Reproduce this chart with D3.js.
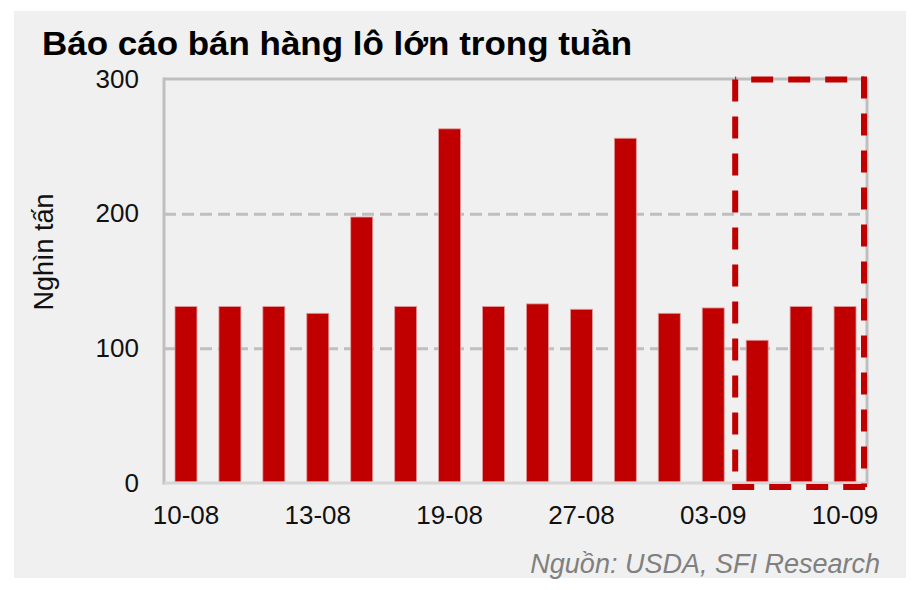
<!DOCTYPE html>
<html>
<head>
<meta charset="utf-8">
<script src="https://cdn.jsdelivr.net/npm/d3@7"></script>
<style>
  body { margin: 0; background: #fff; }
  svg { display: block; font-family: "Liberation Sans", Arial, sans-serif; }
</style>
</head>
<body>
<svg id="chart" width="920" height="590"></svg>
<script>
// Weekly large-lot sales (thousand tonnes), one bar per report
const dates = ['10-08', '11-08', '12-08', '13-08', '14-08', '17-08', '19-08', '20-08',
               '24-08', '27-08', '28-08', '31-08', '03-09', '04-09', '07-09', '10-09'];
const sales = [131, 131, 131, 126, 197.5, 131, 263, 131, 133, 129, 256, 126, 130, 106, 131, 131];
const shownDates = ['10-08', '13-08', '19-08', '27-08', '03-09', '10-09'];
const yTicks = [0, 100, 200, 300];
const highlightFrom = '04-09';

const TITLE = 'Báo cáo bán hàng lô lớn trong tuần';
const Y_LABEL = 'Nghìn tấn';
const SOURCE = 'Nguồn: USDA, SFI Research';

const BAR_RED = '#c00000';
const GRID = '#bfbfbf';

let svg = d3.select('#chart');

// panel background
svg.append('rect')
  .attr('x', 14).attr('y', 11)
  .attr('width', 892).attr('height', 567)
  .attr('fill', '#f0f0f0');

let plot = { left: 164, right: 867, top: 79, bottom: 483 };

let x = d3.scaleBand()
  .domain(dates)
  .range([plot.left, plot.right])
  .paddingInner(0.5)
  .paddingOuter(0.25);

let y = d3.scaleLinear()
  .domain([0, 300])
  .range([plot.bottom, plot.top]);

// dashed gridlines at 100 and 200
svg.append('g')
  .attr('transform', `translate(${plot.left},0)`)
  .call(d3.axisLeft(y).tickValues([100, 200]).tickSize(-(plot.right - plot.left)).tickFormat(''))
  .call(g => g.select('.domain').remove())
  .selectAll('line')
    .attr('stroke', GRID)
    .attr('stroke-width', 3)
    .attr('stroke-dasharray', '12,6');

// bars
svg.append('g')
  .selectAll('rect')
  .data(sales)
  .enter()
  .append('rect')
    .attr('x', (d, i) => x(dates[i]))
    .attr('y', d => y(d))
    .attr('width', x.bandwidth())
    .attr('height', d => y(0) - y(d) - 1)
    .attr('fill', BAR_RED)
    .attr('stroke', '#e09a9a')
    .attr('stroke-width', 0.8);

// plot frame
let frame = svg.append('g').attr('fill', 'none').attr('stroke-width', 3);
frame.append('line')
  .attr('x1', plot.left).attr('x2', plot.right)
  .attr('y1', y(300)).attr('y2', y(300))
  .attr('stroke', GRID);
frame.append('line')
  .attr('x1', plot.right).attr('x2', plot.right)
  .attr('y1', y(300) - 1.5).attr('y2', y(0) + 1.5)
  .attr('stroke', GRID);
frame.append('line')
  .attr('x1', plot.left).attr('x2', plot.left)
  .attr('y1', y(300) - 1.5).attr('y2', y(0) + 1.5)
  .attr('stroke', GRID);
frame.append('line')
  .attr('x1', plot.left).attr('x2', plot.right)
  .attr('y1', y(0)).attr('y2', y(0))
  .attr('stroke', '#d6d6d6');

// y axis labels
svg.append('g')
  .attr('transform', `translate(${plot.left},0)`)
  .call(d3.axisLeft(y).tickValues(yTicks).tickSize(0).tickPadding(25))
  .call(g => g.select('.domain').remove())
  .selectAll('text')
    .attr('font-family', '"Liberation Sans", Arial, sans-serif')
    .attr('font-size', 26)
    .attr('fill', '#111');

// x axis labels, only every third date
svg.append('g')
  .attr('transform', `translate(0,${plot.bottom})`)
  .call(d3.axisBottom(x).tickValues(shownDates).tickSize(0).tickPadding(23))
  .call(g => g.select('.domain').remove())
  .selectAll('text')
    .attr('font-family', '"Liberation Sans", Arial, sans-serif')
    .attr('font-size', 26)
    .attr('fill', '#111');

// highlighted box around the last weeks
let step = x.step();
let boxLeft = x(highlightFrom) - (step - x.bandwidth()) / 2;
let boxRight = plot.right - 3;
let boxTop = y(300) + 0.5;
let boxBottom = y(0) + 4;
let boxSides = [
  { pts: [[boxLeft, boxTop], [boxLeft, boxBottom]], offset: 0 },
  { pts: [[boxRight, boxTop - 3], [boxRight, boxBottom]], offset: 0 },
  { pts: [[boxLeft - 3, boxBottom], [boxRight + 3, boxBottom]], offset: 0 },
  { pts: [[boxLeft, boxTop], [boxRight, boxTop]], offset: 21 }
];
svg.append('g')
  .selectAll('path')
  .data(boxSides)
  .enter()
  .append('path')
    .attr('d', d => d3.line()(d.pts))
    .attr('fill', 'none')
    .attr('stroke', BAR_RED)
    .attr('stroke-width', 6)
    .attr('stroke-dasharray', '22,15')
    .attr('stroke-dashoffset', d => d.offset);

// title
svg.append('text')
  .attr('x', 42)
  .attr('y', 55)
  .attr('font-size', 33)
  .attr('font-weight', 'bold')
  .attr('fill', '#000')
  .attr('textLength', 590)
  .attr('lengthAdjust', 'spacingAndGlyphs')
  .text(TITLE);

// y axis title
svg.append('text')
  .attr('transform', 'translate(53,252)rotate(-90)')
  .attr('text-anchor', 'middle')
  .attr('font-size', 27)
  .attr('fill', '#111')
  .text(Y_LABEL);

// source note
svg.append('text')
  .attr('x', 880)
  .attr('y', 573)
  .attr('text-anchor', 'end')
  .attr('font-size', 27)
  .attr('font-style', 'italic')
  .attr('fill', '#808080')
  .text(SOURCE);
</script>
</body>
</html>
